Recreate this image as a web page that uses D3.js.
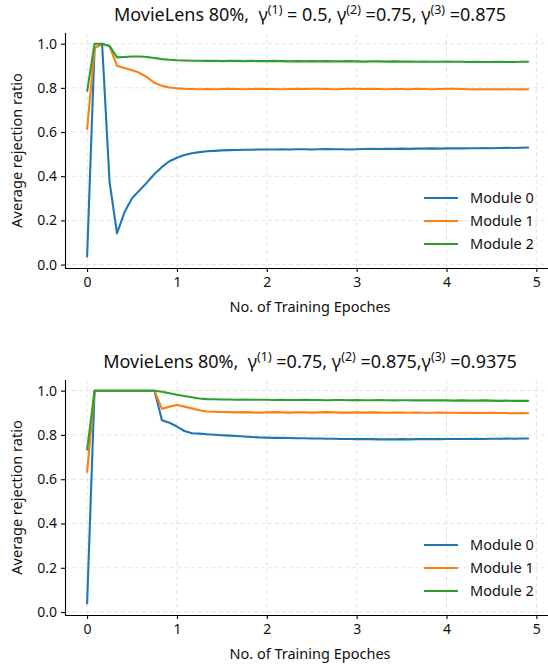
<!DOCTYPE html>
<html>
<head>
<meta charset="utf-8">
<script src="https://cdn.jsdelivr.net/npm/d3@7"></script>
<style>
  body { margin: 0; background: #fff; }
  svg { font-family: "Noto Sans", "Open Sans", sans-serif; }
</style>
</head>
<body>
<div id="chart"></div>
<script>
// training epochs (12 checkpoints per epoch)
var epochs = [0, 0.083, 0.167, 0.25, 0.333, 0.417, 0.5, 0.583, 0.667, 0.75, 0.833, 0.917,
  1, 1.083, 1.167, 1.25, 1.333, 1.417, 1.5, 1.583, 1.667, 1.75, 1.833, 1.917,
  2, 2.083, 2.167, 2.25, 2.333, 2.417, 2.5, 2.583, 2.667, 2.75, 2.833, 2.917,
  3, 3.083, 3.167, 3.25, 3.333, 3.417, 3.5, 3.583, 3.667, 3.75, 3.833, 3.917,
  4, 4.083, 4.167, 4.25, 4.333, 4.417, 4.5, 4.583, 4.667, 4.75, 4.833, 4.917];

var seriesNames = ["Module 0", "Module 1", "Module 2"];
var xTicks = [0, 1, 2, 3, 4, 5];
var yTicks = [0.0, 0.2, 0.4, 0.6, 0.8, 1.0];

// top panel: gamma = 0.5 / 0.75 / 0.875
var topModule0 = [0.033, 0.98, 1.0, 0.374, 0.142, 0.238, 0.300, 0.336, 0.372, 0.410, 0.442, 0.468,
  0.484, 0.496, 0.504, 0.509, 0.513, 0.515, 0.517, 0.518, 0.519, 0.520, 0.520, 0.521,
  0.521, 0.521, 0.522, 0.521, 0.522, 0.522, 0.521, 0.522, 0.523, 0.522, 0.522, 0.521,
  0.522, 0.523, 0.524, 0.523, 0.524, 0.524, 0.525, 0.524, 0.525, 0.525, 0.526, 0.525,
  0.526, 0.527, 0.526, 0.527, 0.527, 0.528, 0.527, 0.528, 0.529, 0.528, 0.529, 0.530];
var topModule1 = [0.61, 0.98, 1.0, 0.988, 0.900, 0.890, 0.880, 0.868, 0.848, 0.823, 0.809, 0.802,
  0.798, 0.796, 0.795, 0.794, 0.795, 0.794, 0.795, 0.796, 0.795, 0.794, 0.795, 0.796,
  0.795, 0.795, 0.794, 0.795, 0.796, 0.795, 0.796, 0.796, 0.795, 0.794, 0.795, 0.796,
  0.796, 0.795, 0.796, 0.795, 0.794, 0.795, 0.795, 0.794, 0.796, 0.795, 0.794, 0.795,
  0.796, 0.796, 0.795, 0.794, 0.793, 0.794, 0.794, 0.793, 0.794, 0.794, 0.793, 0.794];
var topModule2 = [0.783, 1.0, 1.0, 0.99, 0.938, 0.940, 0.942, 0.942, 0.940, 0.935, 0.930, 0.927,
  0.925, 0.924, 0.923, 0.923, 0.922, 0.923, 0.921, 0.922, 0.922, 0.921, 0.922, 0.921,
  0.921, 0.922, 0.921, 0.920, 0.921, 0.920, 0.921, 0.920, 0.921, 0.920, 0.920, 0.921,
  0.920, 0.919, 0.920, 0.920, 0.919, 0.920, 0.919, 0.919, 0.918, 0.919, 0.918, 0.918,
  0.919, 0.918, 0.918, 0.917, 0.918, 0.917, 0.917, 0.918, 0.917, 0.917, 0.918, 0.918];

// bottom panel: gamma = 0.75 / 0.875 / 0.9375
var botModule0 = [0.035, 1.0, 1.0, 1.0, 1.0, 1.0, 1.0, 1.0, 1.0, 1.0, 0.866, 0.855,
  0.838, 0.818, 0.808, 0.806, 0.803, 0.801, 0.799, 0.797, 0.795, 0.793, 0.791, 0.789,
  0.788, 0.787, 0.787, 0.786, 0.785, 0.785, 0.784, 0.784, 0.783, 0.783, 0.782, 0.782,
  0.781, 0.781, 0.781, 0.780, 0.780, 0.780, 0.781, 0.780, 0.781, 0.781, 0.781, 0.781,
  0.782, 0.782, 0.782, 0.782, 0.783, 0.782, 0.783, 0.783, 0.784, 0.783, 0.784, 0.784];
var botModule1 = [0.63, 1.0, 1.0, 1.0, 1.0, 1.0, 1.0, 1.0, 1.0, 1.0, 0.918, 0.928,
  0.935, 0.928, 0.920, 0.912, 0.906, 0.905, 0.904, 0.903, 0.902, 0.903, 0.902, 0.901,
  0.902, 0.903, 0.902, 0.901, 0.902, 0.902, 0.901, 0.902, 0.903, 0.902, 0.901, 0.901,
  0.902, 0.901, 0.902, 0.901, 0.900, 0.901, 0.901, 0.900, 0.901, 0.900, 0.900, 0.901,
  0.900, 0.900, 0.899, 0.900, 0.899, 0.899, 0.900, 0.899, 0.899, 0.898, 0.899, 0.898];
var botModule2 = [0.73, 1.0, 1.0, 1.0, 1.0, 1.0, 1.0, 1.0, 1.0, 1.0, 0.995, 0.988,
  0.982, 0.976, 0.970, 0.965, 0.962, 0.961, 0.960, 0.960, 0.959, 0.960, 0.959, 0.959,
  0.959, 0.958, 0.959, 0.958, 0.958, 0.959, 0.958, 0.958, 0.957, 0.958, 0.958, 0.957,
  0.958, 0.957, 0.957, 0.958, 0.957, 0.956, 0.957, 0.957, 0.956, 0.956, 0.957, 0.956,
  0.956, 0.955, 0.956, 0.955, 0.955, 0.956, 0.955, 0.954, 0.955, 0.954, 0.954, 0.954];

var colors = ["#1f77b4", "#ff7f0e", "#2ca02c"];

var W = 548, H = 669;
var svg = d3.select("#chart").append("svg")
    .attr("width", W)
    .attr("height", H);

// draws one panel; title pieces = [text, superscript, text, ...]
function drawPanel(top, titleParts, series) {
    var left = 65, right = 551, bottom = top + 235;

    // matplotlib-like 5% margins
    var xExt = d3.extent(epochs);
    var xPad = (xExt[1] - xExt[0]) * 0.05;
    var all = d3.merge(series);
    var yExt = d3.extent(all);
    var yPad = (yExt[1] - yExt[0]) * 0.05;

    var x = d3.scaleLinear().domain([xExt[0] - xPad, xExt[1] + xPad]).range([left, right]);
    var y = d3.scaleLinear().domain([yExt[0] - yPad, yExt[1] + yPad]).range([bottom, top]);

    var g = svg.append("g");

    // grid
    g.selectAll(".gx").data(xTicks).enter().append("line")
        .attr("x1", function (d) { return x(d); })
        .attr("x2", function (d) { return x(d); })
        .attr("y1", top).attr("y2", bottom)
        .attr("stroke", "#e3e3e3").attr("stroke-width", 1)
        .attr("stroke-dasharray", "4,3");
    g.selectAll(".gy").data(yTicks).enter().append("line")
        .attr("x1", left).attr("x2", right)
        .attr("y1", function (d) { return y(d); })
        .attr("y2", function (d) { return y(d); })
        .attr("stroke", "#e3e3e3").attr("stroke-width", 1)
        .attr("stroke-dasharray", "4,3");

    // lines
    var line = d3.line()
        .x(function (d, i) { return x(epochs[i]); })
        .y(function (d) { return y(d); });
    series.forEach(function (s, k) {
        g.append("path")
            .datum(s)
            .attr("d", line)
            .attr("fill", "none")
            .attr("stroke", colors[k])
            .attr("stroke-width", 2.1)
            .attr("stroke-linejoin", "round");
    });

    // axes
    var xAxis = d3.axisBottom(x).tickValues(xTicks).tickSize(4).tickPadding(5)
        .tickFormat(d3.format("d"));
    var yAxis = d3.axisLeft(y).tickValues(yTicks).tickSize(4).tickPadding(4)
        .tickFormat(d3.format(".1f"));

    var gx = g.append("g").attr("transform", "translate(0," + bottom + ")").call(xAxis);
    var gy = g.append("g").attr("transform", "translate(" + left + ",0)").call(yAxis);
    [gx, gy].forEach(function (a) {
        a.select(".domain").attr("stroke", "#000").attr("stroke-width", 1.1);
        a.selectAll(".tick line").attr("stroke", "#000").attr("stroke-width", 1.1);
        a.selectAll(".tick text").attr("fill", "#111").style("font-size", "14px")
            .style("font-family", "'Noto Sans', sans-serif");
    });
    gx.select(".domain").attr("d", "M" + left + ",0.5H" + right);
    gy.select(".domain").attr("d", "M0.5," + top + "V" + bottom);

    // axis labels
    g.append("text")
        .attr("x", (left + right) / 2 + 2)
        .attr("y", bottom + 44)
        .attr("text-anchor", "middle")
        .style("font-size", "14.5px")
        .attr("fill", "#111")
        .text("No. of Training Epoches");
    g.append("text")
        .attr("transform", "translate(22," + ((top + bottom) / 2) + ") rotate(-90)")
        .attr("text-anchor", "middle")
        .style("font-size", "14.5px")
        .attr("fill", "#111")
        .text("Average rejection ratio");

    // title
    var t = g.append("text")
        .attr("x", (left + right) / 2 + 2)
        .attr("y", top - 12)
        .attr("text-anchor", "middle")
        .style("font-size", "18px")
        .attr("fill", "#111");
    titleParts.forEach(function (p, i) {
        if (i % 2 === 1) {
            t.append("tspan").attr("dy", -7).style("font-size", "12.5px").text(p);
        } else {
            t.append("tspan").attr("dy", i === 0 ? 0 : 7).text(p);
        }
    });

    // legend
    seriesNames.forEach(function (name, k) {
        var ly = bottom - 70 + k * 23;
        g.append("line")
            .attr("x1", 424).attr("x2", 458)
            .attr("y1", ly).attr("y2", ly)
            .attr("stroke", colors[k]).attr("stroke-width", 2.1);
        g.append("text")
            .attr("x", 470).attr("y", ly + 5)
            .style("font-size", "14.5px")
            .attr("fill", "#111")
            .text(name);
    });
}

drawPanel(33, ["MovieLens 80%,\u00a0\u00a0\u03b3", "(1)", " = 0.5, \u03b3", "(2)", " =0.75, \u03b3", "(3)", " =0.875"],
    [topModule0, topModule1, topModule2]);
drawPanel(380, ["MovieLens 80%,\u00a0\u00a0\u03b3", "(1)", " =0.75, \u03b3", "(2)", " =0.875,\u03b3", "(3)", " =0.9375"],
    [botModule0, botModule1, botModule2]);
</script>
</body>
</html>
